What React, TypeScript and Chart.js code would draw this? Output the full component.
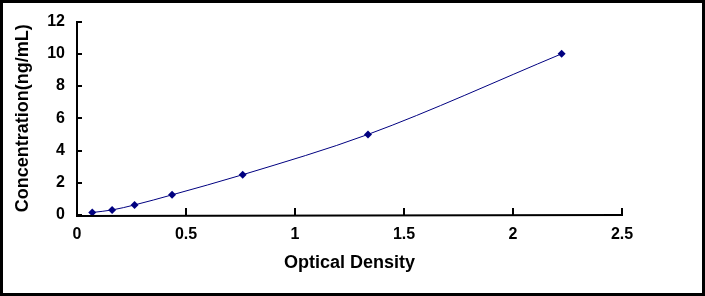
import React, { useEffect, useRef } from "react";
import { Chart, registerables } from "chart.js";

Chart.register(...registerables);

const opticalDensity = [0.07, 0.161, 0.264, 0.436, 0.76, 1.335, 2.223];
const concentration = [0.156, 0.312, 0.625, 1.25, 2.5, 5, 10];
const xTitle = "Optical Density";
const yTitle = "Concentration(ng/mL)";

const FONT = "Arial, 'Liberation Sans', sans-serif";

const axesPlugin = {
  id: "axesPlugin",
  afterDraw(chart: any) {
    const { ctx, chartArea, scales } = chart;
    const xs = scales.x;
    const ys = scales.y;
    ctx.save();
    ctx.strokeStyle = "#000";
    ctx.lineWidth = 2;
    const x0 = Math.round(chartArea.left);
    const y0 = Math.round(chartArea.bottom);
    ctx.beginPath();
    ctx.moveTo(x0, Math.round(chartArea.top) - 1);
    ctx.lineTo(x0, y0 + 1);
    ctx.lineTo(Math.round(chartArea.right) + 1, y0);
    ctx.stroke();
    ctx.beginPath();
    xs.ticks.forEach((t: any) => {
      const px = Math.round(xs.getPixelForValue(t.value));
      ctx.moveTo(px, y0);
      ctx.lineTo(px, y0 - 7);
    });
    ys.ticks.forEach((t: any) => {
      const py = Math.round(ys.getPixelForValue(t.value));
      ctx.moveTo(x0, py);
      ctx.lineTo(x0 + 5, py);
    });
    ctx.stroke();
    ctx.lineWidth = 3;
    ctx.strokeRect(1.5, 1.5, chart.width - 3, chart.height - 3);
    ctx.restore();
  },
};

export default function App() {
  const ref = useRef<HTMLCanvasElement>(null);
  useEffect(() => {
    if (!ref.current) return;
    const chart = new Chart(ref.current, {
      type: "scatter",
      data: {
        datasets: [
          {
            data: opticalDensity.map((x, i) => ({ x, y: concentration[i] })),
            showLine: true,
            borderColor: "#000080",
            borderWidth: 1,
            backgroundColor: "#000080",
            pointStyle: "rectRot",
            pointRadius: 4,
            pointBorderWidth: 0,
            cubicInterpolationMode: "monotone",
          },
        ],
      },
      options: {
        responsive: false,
        animation: false,
        layout: { padding: { top: 18, right: 83, left: 0, bottom: 0 } },
        plugins: { legend: { display: false }, tooltip: { enabled: false } },
        scales: {
          x: {
            type: "linear",
            min: 0,
            max: 2.5,
            grid: { display: false, drawTicks: false },
            border: { display: false },
            ticks: {
              stepSize: 0.5,
              padding: 10,
              color: "#000",
              font: { family: FONT, size: 16, weight: 700 },
              callback: (v: any) => String(Number(v)),
            },
            title: {
              display: true,
              text: xTitle,
              color: "#000",
              font: { family: FONT, size: 18, weight: 700 },
              padding: { top: 0, bottom: 22 },
            },
            afterFit(scale: any) {
              scale.height = 81;
            },
          },
          y: {
            type: "linear",
            min: 0,
            max: 12,
            grid: { display: false, drawTicks: false },
            border: { display: false },
            ticks: {
              stepSize: 2,
              padding: 12,
              color: "#000",
              font: { family: FONT, size: 16, weight: 700 },
              callback: (v: any) => String(Number(v)),
            },
            title: {
              display: true,
              text: yTitle,
              color: "#000",
              font: { family: FONT, size: 18, weight: 700 },
              padding: { top: 12, bottom: 0 },
            },
            afterFit(scale: any) {
              scale.width = 77;
            },
          },
        },
      },
      plugins: [axesPlugin],
    } as any);
    return () => chart.destroy();
  }, []);
  return (
    <div style={{ position: "absolute", left: 0, top: 0, width: 705, height: 296, background: "#fff" }}>
      <canvas ref={ref} width={705} height={296} style={{ display: "block" }} />
    </div>
  );
}
